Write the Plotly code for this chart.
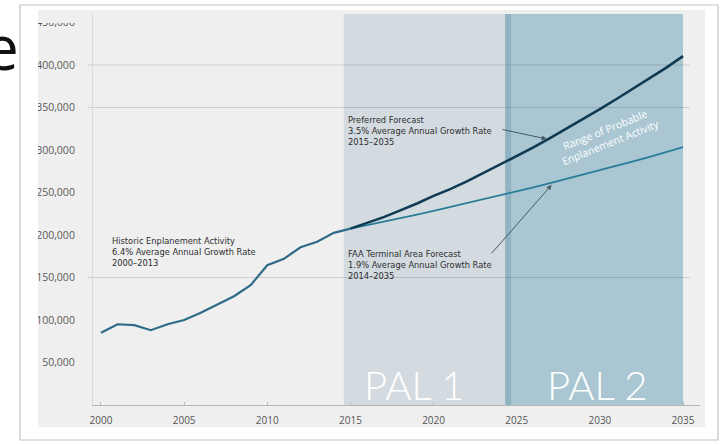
import plotly.graph_objects as go

# ---------------- data ----------------
hist_years = list(range(2000, 2016))
hist_values = [85000, 95000, 94000, 88000, 95000, 100000, 108500, 118500,
               128000, 141000, 164500, 172000, 185500, 192000, 202500, 207500]

fc_years = list(range(2015, 2036))
preferred_values = [207500, 214000, 221000, 229000, 237000, 246000, 254000,
                    263000, 273000, 283000, 293000, 303000, 314000, 325000,
                    336000, 348000, 360000, 372000, 384000, 397000, 410500]
faa_values = [207500, 211500, 215500, 220000, 224000, 228500, 233000, 237500,
              242000, 246500, 251000, 256000, 261000, 266000, 271000, 276000,
              281000, 286500, 292000, 297500, 303500]

x_ticks = [2000, 2005, 2010, 2015, 2020, 2025, 2030, 2035]
x_tick_labels = ["2000", "2005", "2010", "2015", "2020", "2025", "2030", "2035"]
y_ticks = [50000, 100000, 150000, 200000, 250000, 300000, 350000, 400000, 450000]
y_tick_labels = ["50,000", "100,000", "150,000", "200,000", "250,000",
                 "300,000", "350,000", "400,000", "450,000"]
grid_values = [150000, 350000, 400000]

pal_labels = ["PAL 1", "PAL 2"]
pal1_span = [2014.6, 2024.3]
pal_divider = [2024.3, 2024.7]
pal2_span = [2024.7, 2035.0]

# ---------------- layout helpers ----------------
W, H = 725, 445
L, R, T, B = 93, 25, 14, 40
PW, PH = W - L - R, H - T - B


def px(x):
    return (x - L) / PW


def py(y):
    return (H - B - y) / PH


fig = go.Figure()

fig.add_trace(go.Scatter(x=fc_years, y=faa_values, mode="lines",
                         line=dict(color="#2a7d97", width=1.8), hoverinfo="skip"))
fig.add_trace(go.Scatter(x=fc_years, y=preferred_values, mode="lines",
                         line=dict(color="#0f3a52", width=2.6), hoverinfo="skip"))
fig.add_trace(go.Scatter(x=hist_years, y=hist_values, mode="lines",
                         line=dict(color="#2d6b88", width=2.2), hoverinfo="skip"))

shapes = [
    # outer frame
    dict(type="rect", xref="paper", yref="paper", x0=px(20), x1=px(718),
         y0=py(440), y1=py(5), line=dict(color="#c4c4c4", width=1.2),
         fillcolor="white", layer="below"),
    # grey panel
    dict(type="rect", xref="paper", yref="paper", x0=px(36), x1=px(705),
         y0=py(427), y1=py(10), line=dict(width=0),
         fillcolor="#efefef", layer="below"),
    # PAL bands
    dict(type="rect", xref="x", yref="paper", x0=pal1_span[0], x1=pal1_span[1],
         y0=0, y1=1, line=dict(width=0), fillcolor="#d3dbe0", layer="below"),
    dict(type="rect", xref="x", yref="paper", x0=pal_divider[0], x1=pal_divider[1],
         y0=0, y1=1, line=dict(width=0), fillcolor="#8fb3c3", layer="below"),
    dict(type="rect", xref="x", yref="paper", x0=pal2_span[0], x1=pal2_span[1],
         y0=0, y1=1, line=dict(width=0), fillcolor="#a9c6d2", layer="below"),
    # covers that trim the tick labels like the source crop
    dict(type="rect", xref="paper", yref="paper", x0=px(21), x1=px(38),
         y0=py(438), y1=py(6), line=dict(width=0), fillcolor="white", layer="above"),
    dict(type="rect", xref="paper", yref="paper", x0=px(38), x1=px(90),
         y0=py(23), y1=py(10), line=dict(width=0), fillcolor="#efefef", layer="above"),
]
for g in grid_values:
    shapes.append(dict(type="line", xref="paper", yref="y", x0=px(88), x1=px(690),
                       y0=g, y1=g, line=dict(color="rgba(0,0,0,0.13)", width=1),
                       layer="between"))

note_font = dict(family="DejaVu Sans", size=8.3, color="#2e2e2e")
annotations = [
    dict(text="Historic Enplanement Activity<br>6.4% Average Annual Growth Rate<br>2000–2013",
         x=2000.55, y=180000, xref="x", yref="y", xanchor="left", yanchor="middle",
         align="left", showarrow=False, font=note_font),
    dict(text="Preferred Forecast<br>3.5% Average Annual Growth Rate<br>2015–2035",
         x=2014.75, y=322000, xref="x", yref="y", xanchor="left", yanchor="middle",
         align="left", showarrow=False, font=note_font),
    dict(text="FAA Terminal Area Forecast<br>1.9% Average Annual Growth Rate<br>2014–2035",
         x=2014.75, y=165000, xref="x", yref="y", xanchor="left", yanchor="middle",
         align="left", showarrow=False, font=note_font),
    # arrows
    dict(text="", x=2026.8, y=313000, ax=2024.05, ay=324500, xref="x", yref="y",
         axref="x", ayref="y", showarrow=True, arrowhead=2, arrowsize=1,
         arrowwidth=1, arrowcolor="#445a66"),
    dict(text="", x=2027.1, y=259000, ax=2023.4, ay=176500, xref="x", yref="y",
         axref="x", ayref="y", showarrow=True, arrowhead=2, arrowsize=1,
         arrowwidth=1, arrowcolor="#445a66"),
    dict(text="Range of Probable<br>Enplanement Activity", x=2030.5, y=317000,
         xref="x", yref="y", textangle=-22, showarrow=False,
         font=dict(family="Open Sans", size=10.5, color="white")),
    dict(text=pal_labels[0], x=(pal1_span[0] + pal1_span[1]) / 2 - 0.6, y=24000,
         xref="x", yref="y", showarrow=False, yanchor="middle",
         font=dict(family="Lato", size=40, color="white", weight=300)),
    dict(text=pal_labels[1], x=(pal2_span[0] + pal2_span[1]) / 2, y=24000,
         xref="x", yref="y", showarrow=False, yanchor="middle",
         font=dict(family="Lato", size=40, color="white", weight=300)),
    # slide title remnant
    dict(text="e", xref="paper", yref="paper", x=px(21), y=py(46),
         xanchor="right", yanchor="middle", showarrow=False,
         font=dict(family="Open Sans", size=62, color="#111111")),
]

fig.update_layout(
    width=W, height=H,
    margin=dict(l=L, r=R, t=T, b=B),
    paper_bgcolor="white",
    plot_bgcolor="#efefef",
    showlegend=False,
    shapes=shapes,
    annotations=annotations,
    xaxis=dict(range=[1999.52, 2036.02], tickvals=x_ticks, ticktext=x_tick_labels,
               showline=True, linecolor="#b5b5b5", linewidth=1, ticks="inside",
               ticklen=3, tickcolor="#bbbbbb", showgrid=False, zeroline=False,
               tickfont=dict(family="Open Sans", size=10, color="#555555"),
               ticklabelstandoff=6),
    yaxis=dict(range=[0, 460000], tickvals=y_ticks, ticktext=y_tick_labels,
               showline=True, linecolor="#dadada", linewidth=1, ticks="",
               showgrid=False, zeroline=False,
               tickfont=dict(family="Open Sans", size=10.5, color="#5a5a5a"),
               ticklabelstandoff=15),
)

fig.write_html("out.html")
